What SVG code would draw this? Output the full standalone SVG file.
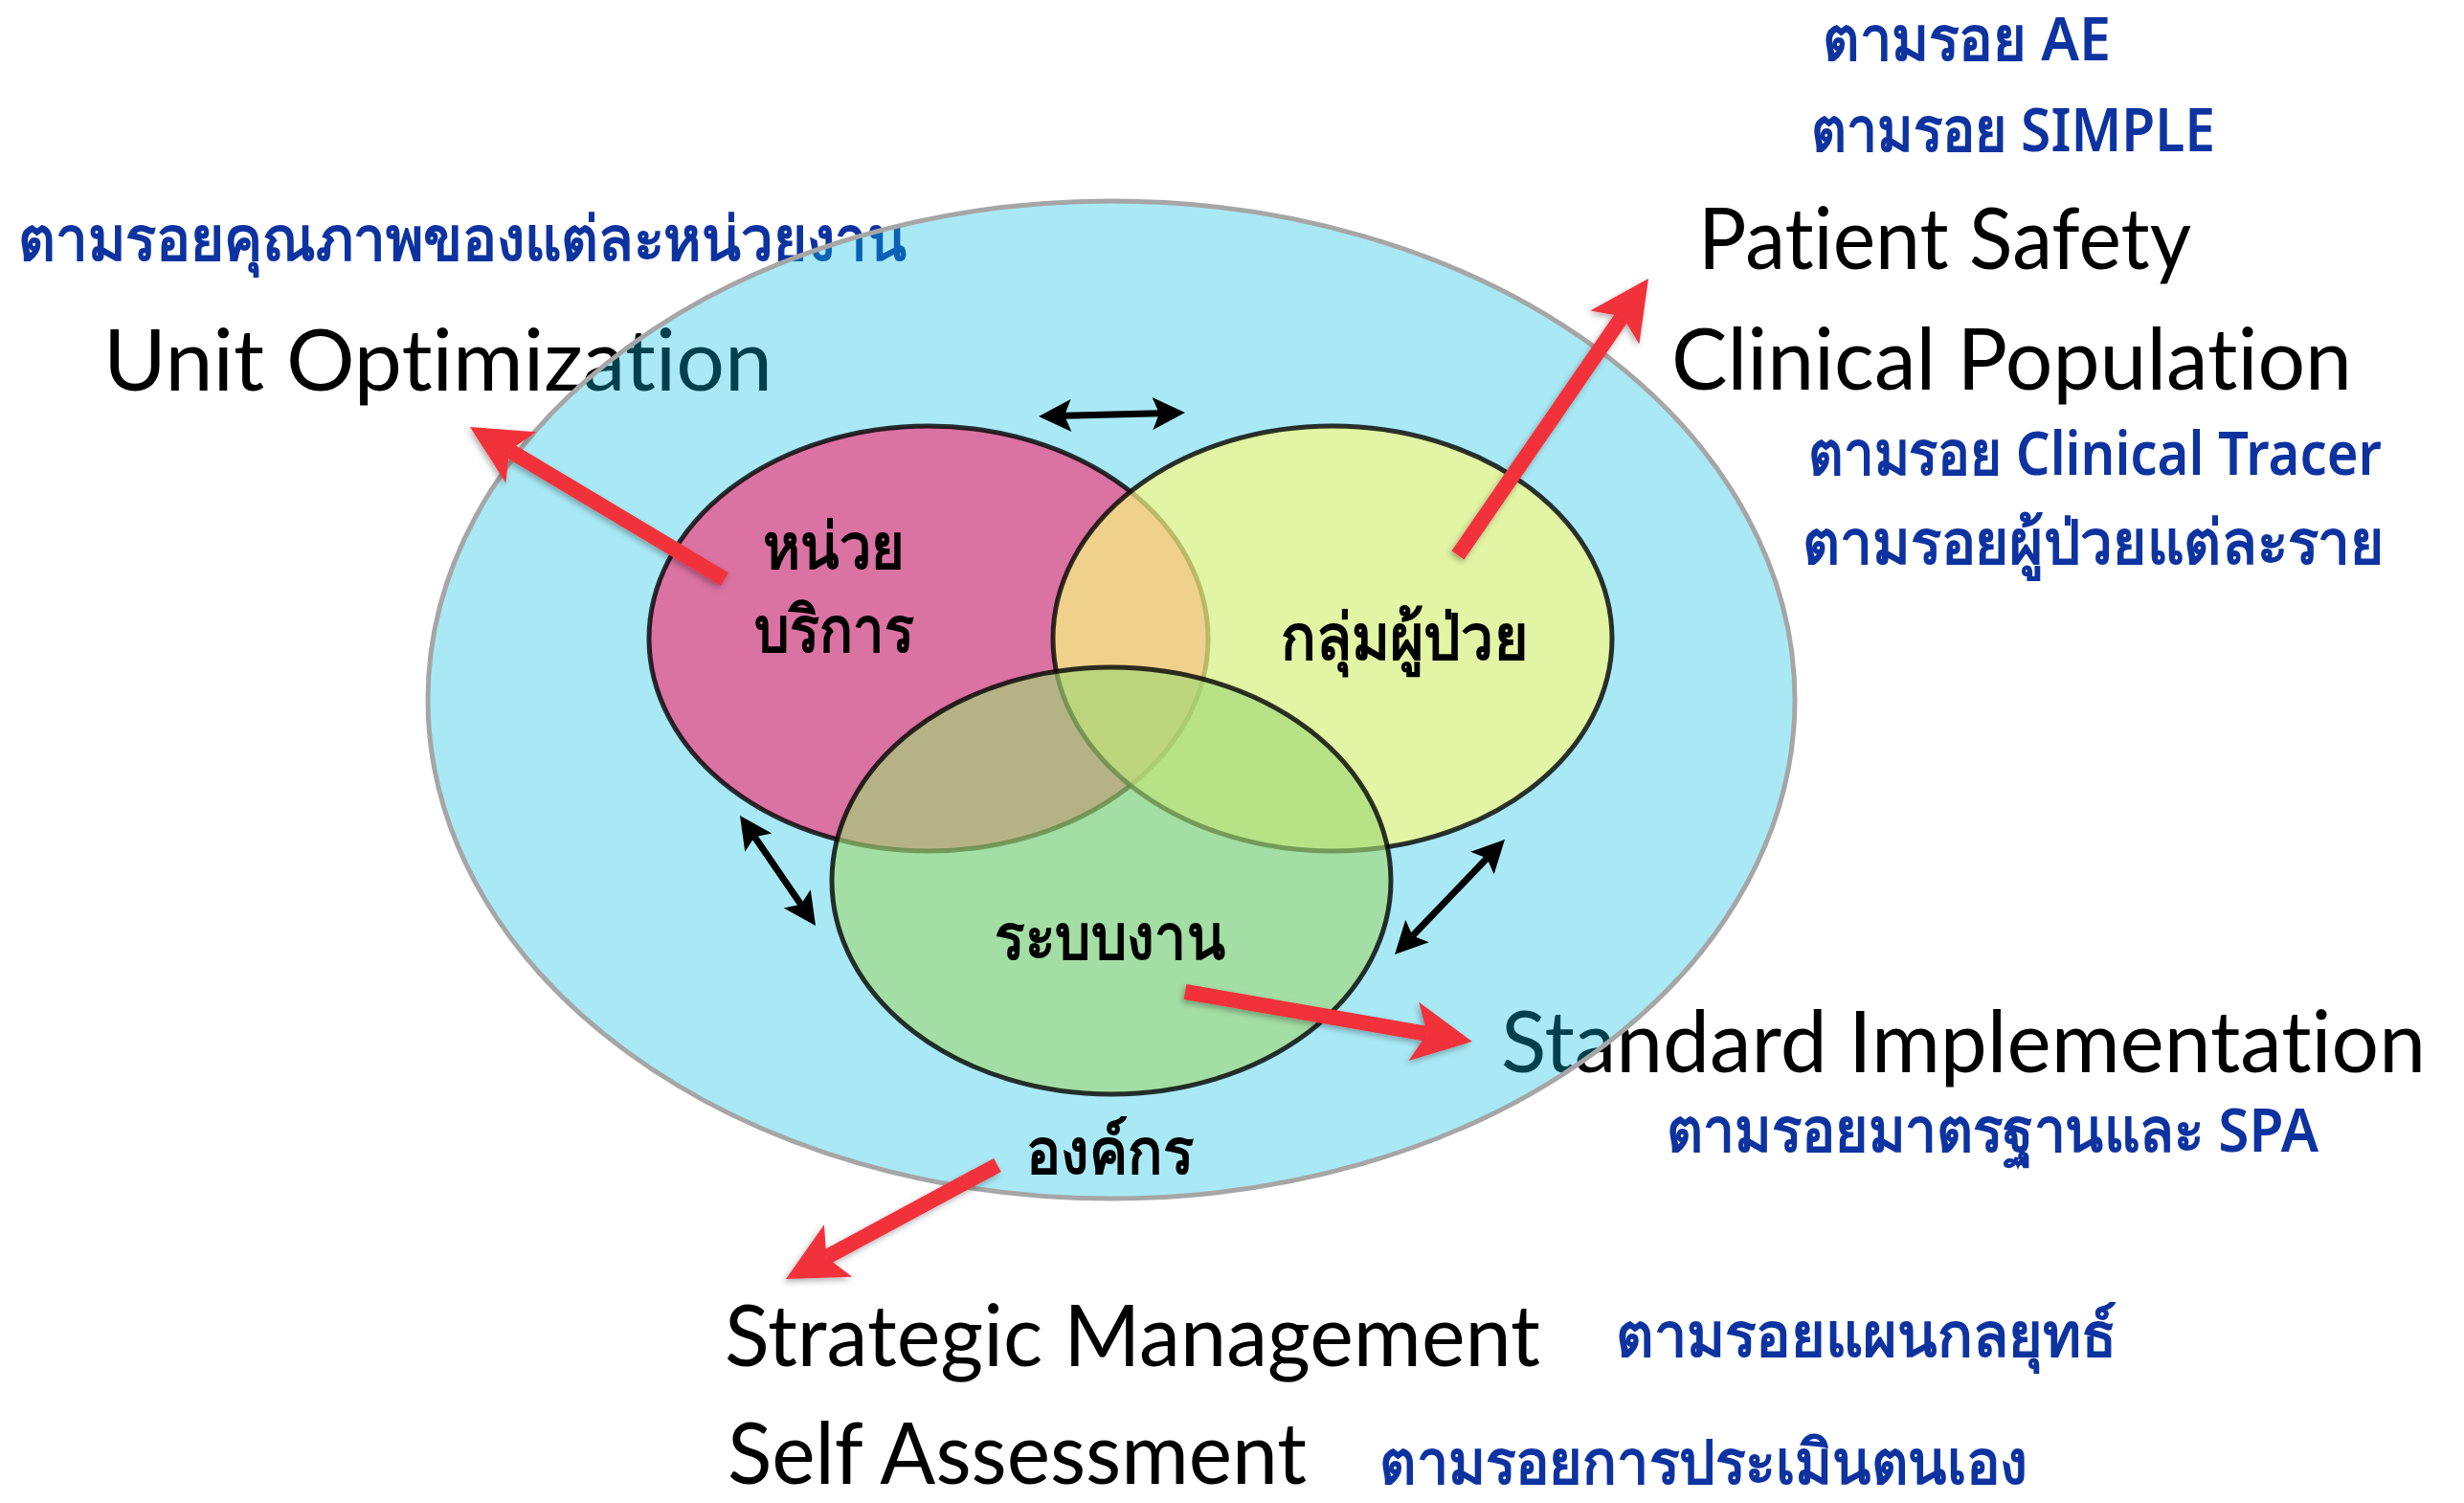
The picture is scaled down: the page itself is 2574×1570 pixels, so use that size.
<svg xmlns="http://www.w3.org/2000/svg" width="2574" height="1570" viewBox="0 0 2574 1570">
<defs>
<style>
.en { font-family: Lato, "Open Sans", "Noto Sans", sans-serif; font-size: 90px; fill: #000000; font-variant-ligatures: none; }
.th { font-family: "Noto Sans", "DejaVu Sans", sans-serif; font-size: 64px; font-weight: 600; fill: #0D33A0; font-variant-ligatures: none; }
.lbl { font-family: "Noto Sans", "DejaVu Sans", sans-serif; font-size: 67px; font-weight: 600; fill: #000000; }
.venn { stroke: #000000; stroke-opacity: 0.8; stroke-width: 5; }
.red { stroke: #F2333A; stroke-width: 16; fill: none; marker-end: url(#redHead); filter: url(#shadow); }
.dbl { stroke: #000000; stroke-width: 7; fill: none; marker-start: url(#blackHead); marker-end: url(#blackHead); }
</style>
<marker id="redHead" markerUnits="userSpaceOnUse" markerWidth="62" markerHeight="62" refX="14" refY="31" orient="auto" overflow="visible">
<path d="M0,0 L62,31 L0,62 L14,31 Z" fill="#F2333A"/>
</marker>
<marker id="blackHead" markerUnits="userSpaceOnUse" markerWidth="34" markerHeight="34" refX="7" refY="17" orient="auto-start-reverse" overflow="visible">
<path d="M0,0 L34,17 L0,34 L7,17 Z" fill="#000000"/>
</marker>
<filter id="shadow" filterUnits="userSpaceOnUse" x="0" y="0" width="2574" height="1570">
<feDropShadow dx="-2" dy="3" stdDeviation="3" flood-color="#000000" flood-opacity="0.3"/>
</filter>
</defs>
<rect x="0" y="0" width="2574" height="1570" fill="#FFFFFF"/>

<g id="outer-labels">
<text class="th" x="19" y="272" textLength="928" lengthAdjust="spacingAndGlyphs">ตามรอยคุณภาพของแต่ละหน่วยงาน</text>
<text class="en" x="108" y="408" textLength="699" lengthAdjust="spacingAndGlyphs">Unit Optimization</text>
<text class="th" x="1904" y="63" textLength="301" lengthAdjust="spacingAndGlyphs">ตามรอย AE</text>
<text class="th" x="1892" y="158" textLength="422" lengthAdjust="spacingAndGlyphs">ตามรอย SIMPLE</text>
<text class="en" x="1774" y="281" textLength="515" lengthAdjust="spacingAndGlyphs">Patient Safety</text>
<text class="en" x="1746" y="407" textLength="711" lengthAdjust="spacingAndGlyphs">Clinical Population</text>
<text class="th" x="1889" y="496" textLength="599" lengthAdjust="spacingAndGlyphs">ตามรอย Clinical Tracer</text>
<text class="th" x="1883" y="589" textLength="608" lengthAdjust="spacingAndGlyphs">ตามรอยผู้ป่วยแต่ละราย</text>
<text class="en" x="1568" y="1120" textLength="966" lengthAdjust="spacingAndGlyphs">Standard Implementation</text>
<text class="th" x="1741" y="1203" textLength="681" lengthAdjust="spacingAndGlyphs">ตามรอยมาตรฐานและ SPA</text>
<text class="en" x="757" y="1427" textLength="852" lengthAdjust="spacingAndGlyphs">Strategic Management</text>
<text class="th" x="1688" y="1417" textLength="523" lengthAdjust="spacingAndGlyphs">ตามรอยแผนกลยุทธ์</text>
<text class="en" x="760" y="1550" textLength="605" lengthAdjust="spacingAndGlyphs">Self Assessment</text>
<text class="th" x="1441" y="1550" textLength="677" lengthAdjust="spacingAndGlyphs">ตามรอยการประเมินตนเอง</text>
</g>

<g id="node-organization">
<ellipse cx="1161" cy="731" rx="714" ry="521" fill="#00BEE1" fill-opacity="0.337" stroke="#A6A6A6" stroke-width="5"/>
<text class="lbl" x="1072" y="1226" textLength="175" lengthAdjust="spacingAndGlyphs">องค์กร</text>
</g>

<g id="node-unit">
<ellipse class="venn" cx="970" cy="667" rx="292" ry="222" fill="#DA72A2"/>
<text class="lbl" x="797" y="594" textLength="148" lengthAdjust="spacingAndGlyphs">หน่วย</text>
<text class="lbl" x="788" y="681" textLength="167" lengthAdjust="spacingAndGlyphs">บริการ</text>
</g>

<g id="node-patient">
<ellipse class="venn" cx="1392" cy="667" rx="292" ry="222" fill="#FAF981" fill-opacity="0.7"/>
<text class="lbl" x="1338" y="689" textLength="258" lengthAdjust="spacingAndGlyphs">กลุ่มผู้ป่วย</text>
</g>

<g id="node-system">
<ellipse class="venn" cx="1161" cy="920" rx="292" ry="223" fill="#A0D875" fill-opacity="0.64"/>
<text class="lbl" x="1039" y="1002" textLength="241" lengthAdjust="spacingAndGlyphs">ระบบงาน</text>
</g>

<g id="connectors">
<line class="red" x1="757" y1="605" x2="532.2" y2="470.6"/>
<line class="red" x1="1523" y1="580" x2="1694.8" y2="330.5"/>
<line class="red" x1="1238" y1="1036" x2="1490.7" y2="1079.8"/>
<line class="red" x1="1042" y1="1217" x2="863.3" y2="1313.2"/>
<line class="dbl" x1="1112" y1="434.3" x2="1211" y2="431.7"/>
<line class="dbl" x1="788.3" y1="874.3" x2="836.7" y2="944.7"/>
<line class="dbl" x1="1553.3" y1="896.5" x2="1475.7" y2="977.5"/>
</g>
</svg>
